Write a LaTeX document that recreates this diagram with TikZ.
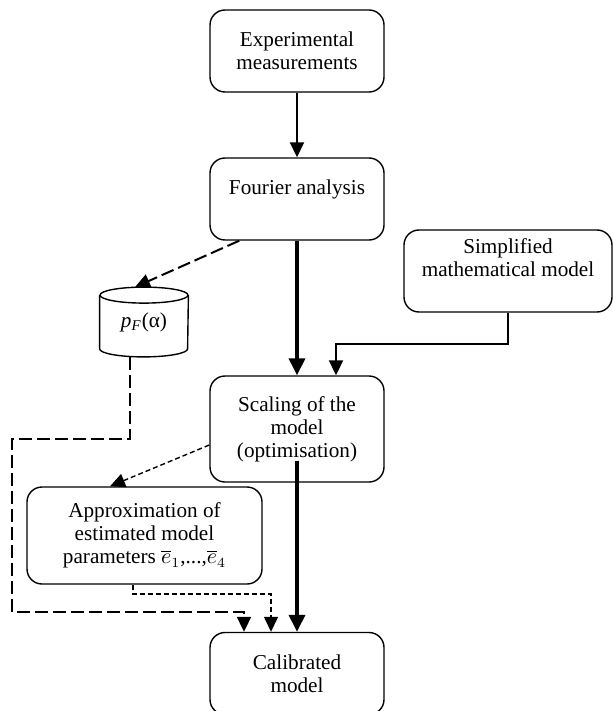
\documentclass[tikz,border=0pt]{standalone}
\usepackage{fontspec}
\setmainfont{Liberation Serif}
\usetikzlibrary{arrows.meta,calc}

\begin{document}
\begin{tikzpicture}
        [x=0.5pt,y=-0.5pt,font=\fontsize{10.6}{11.6}\selectfont,
         box/.style={draw,line width=0.7pt,rounded corners=7.5pt,align=center,inner sep=0pt},
         tip/.style={-{Triangle[length=7.5pt,width=7pt]}},
         bigtip/.style={-{Triangle[length=8.5pt,width=8pt]}},
         thinline/.style={line width=1pt,tip},
         heavy/.style={line width=1.8pt,bigtip},
         longdash/.style={line width=1pt,dash pattern=on 6.5pt off 2.5pt,tip},
         shortdash/.style={line width=0.7pt,dash pattern=on 2.5pt off 1.5pt,tip}]
        \useasboundingbox (0,0) rectangle (613,711);

        \node[box,minimum width=87pt,minimum height=41pt] (meas) at (297,51) {Experimental\\measurements};
        \node[box,minimum width=87pt,minimum height=41pt] (four) at (297,199) {Fourier analysis\\\mbox{}};
        \node[box,minimum width=104pt,minimum height=41pt] (simp) at (508,271) {Simplified\\mathematical model\\[2pt]\mbox{}};
        \node[minimum width=44pt,minimum height=34.5pt,inner sep=0pt] (base) at (144,322) {\textit{p}\textsubscript{\textit{F}}(α)};
        \node[box,minimum width=87pt,minimum height=53pt] (scal) at (297,429) {Scaling of the\\model\\(optimisation)};
        \node[box,minimum width=117.5pt,minimum height=48.5pt] (appr) at (144.5,535.5) {Approximation of\\estimated model\\parameters $\overline{e}_1$,...,$\overline{e}_4$};
        \node[box,minimum width=87pt,minimum height=41pt] (cal) at (297,673.5) {Calibrated\\model};

        % data store
        \draw[line width=0.7pt] ($(base.north west)+(0,8)$) -- ($(base.south west)+(0,-8)$)
            arc[start angle=180,end angle=360,x radius=22pt,y radius=4pt] -- ($(base.north east)+(0,8)$);
        \draw[line width=0.7pt] ($(base.north)+(0,8)$) ellipse [x radius=22pt,y radius=4pt];

        \coordinate (k1) at (12,439);
        \coordinate (k2) at (244,612);
        \coordinate (k3) at (271,594);

        \path [thinline] (meas) edge (four);
        \path [heavy] (four) edge (scal);
        \draw [longdash] ($(four.south west)+(30,0)$) -- ($(base.north)+(-9,0)$);
        \draw [thinline] (simp.south) |- ($(scal.north)+(39,-31)$) -- ($(scal.north)+(39,0)$);
        \draw [longdash] ($(base.south)+(-14,0)$) |- (k1) |- (k2) -- (k2 |- cal.north);
        \draw [shortdash] ($(scal.west)+(0,16)$) -- ($(appr.north)+(-34.5,0)$);
        \draw [shortdash] ($(appr.south)+(-11.5,0)$) |- (k3) -- (k3 |- cal.north);
        \draw [heavy] ($(scal.south)+(0,-22)$) -- (cal.north);
    \end{tikzpicture}
\end{document}
